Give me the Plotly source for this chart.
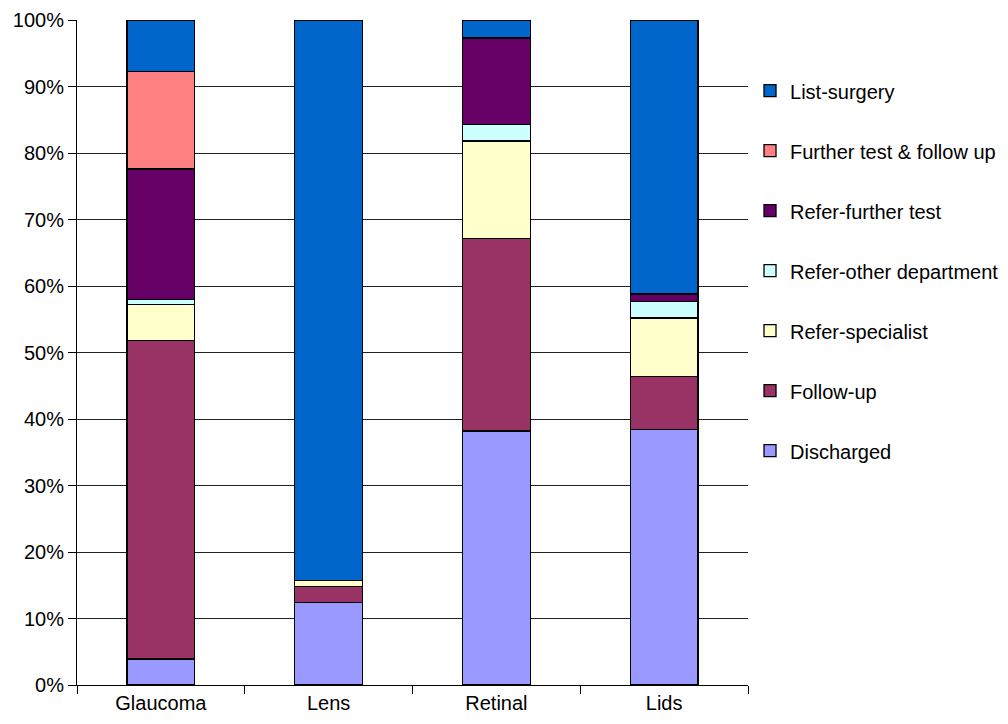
import plotly.graph_objects as go

categories = ["Glaucoma", "Lens", "Retinal", "Lids"]
series_names = ["Discharged", "Follow-up", "Refer-specialist", "Refer-other department",
                "Refer-further test", "Further test & follow up", "List-surgery"]
discharged = [3.9, 12.4, 38.2, 38.4]
follow_up = [47.9, 2.4, 28.9, 8.0]
refer_specialist = [5.4, 0.9, 14.7, 8.8]
refer_other = [0.8, 0.0, 2.5, 2.5]
refer_further = [19.6, 0.0, 13.0, 1.1]
further_test = [14.7, 0.0, 0.0, 0.0]
list_surgery = [7.7, 84.3, 2.7, 41.2]
series_values = [discharged, follow_up, refer_specialist, refer_other,
                 refer_further, further_test, list_surgery]
colors = ["#9999FF", "#993366", "#FFFFCC", "#CCFFFF", "#660066", "#FF8080", "#0066CC"]
y_ticks = [0, 10, 20, 30, 40, 50, 60, 70, 80, 90, 100]
y_ticklabels = [f"{v}%" for v in y_ticks]

FONT = "Liberation Sans, Arial, sans-serif"

fig = go.Figure()
n = len(series_names)
for i, (name, vals, col) in enumerate(zip(series_names, series_values, colors)):
    fig.add_trace(go.Bar(
        x=categories, y=vals, name=name, legendgroup=name,
        legendrank=1000 + (n - i),
        marker=dict(color=col, line=dict(color="#000000", width=1.3)),
        width=0.405,
    ))

fig.update_layout(
    barmode="stack",
    width=1008, height=724,
    margin=dict(l=69, r=263, t=12, b=47),
    plot_bgcolor="white", paper_bgcolor="white",
    font=dict(family=FONT, size=20, color="#000000"),
    showlegend=True,
    legend=dict(
        x=1.003, y=0.923, xanchor="left", yanchor="top",
        traceorder="grouped", tracegroupgap=31,
        font=dict(family=FONT, size=20, color="#000000"),
        itemwidth=30, bgcolor="rgba(0,0,0,0)",
    ),
    bargap=0.595,
)
fig.update_xaxes(
    type="category", tickson="boundaries", ticks="outside", ticklen=8,
    tickcolor="#000000", showline=True, linecolor="#000000", linewidth=1,
    showgrid=False, tickfont=dict(family=FONT, size=20), range=[-0.5, 3.5],
    automargin=False,
)
fig.update_yaxes(
    range=[0, 100], tickvals=y_ticks, ticktext=y_ticklabels,
    ticks="outside", ticklen=8, tickcolor="#000000",
    showline=True, linecolor="#000000", linewidth=1,
    showgrid=True, gridcolor="#222222", gridwidth=1,
    tickfont=dict(family=FONT, size=20), zeroline=False,
    automargin=False,
)

fig.write_html("out.html")
